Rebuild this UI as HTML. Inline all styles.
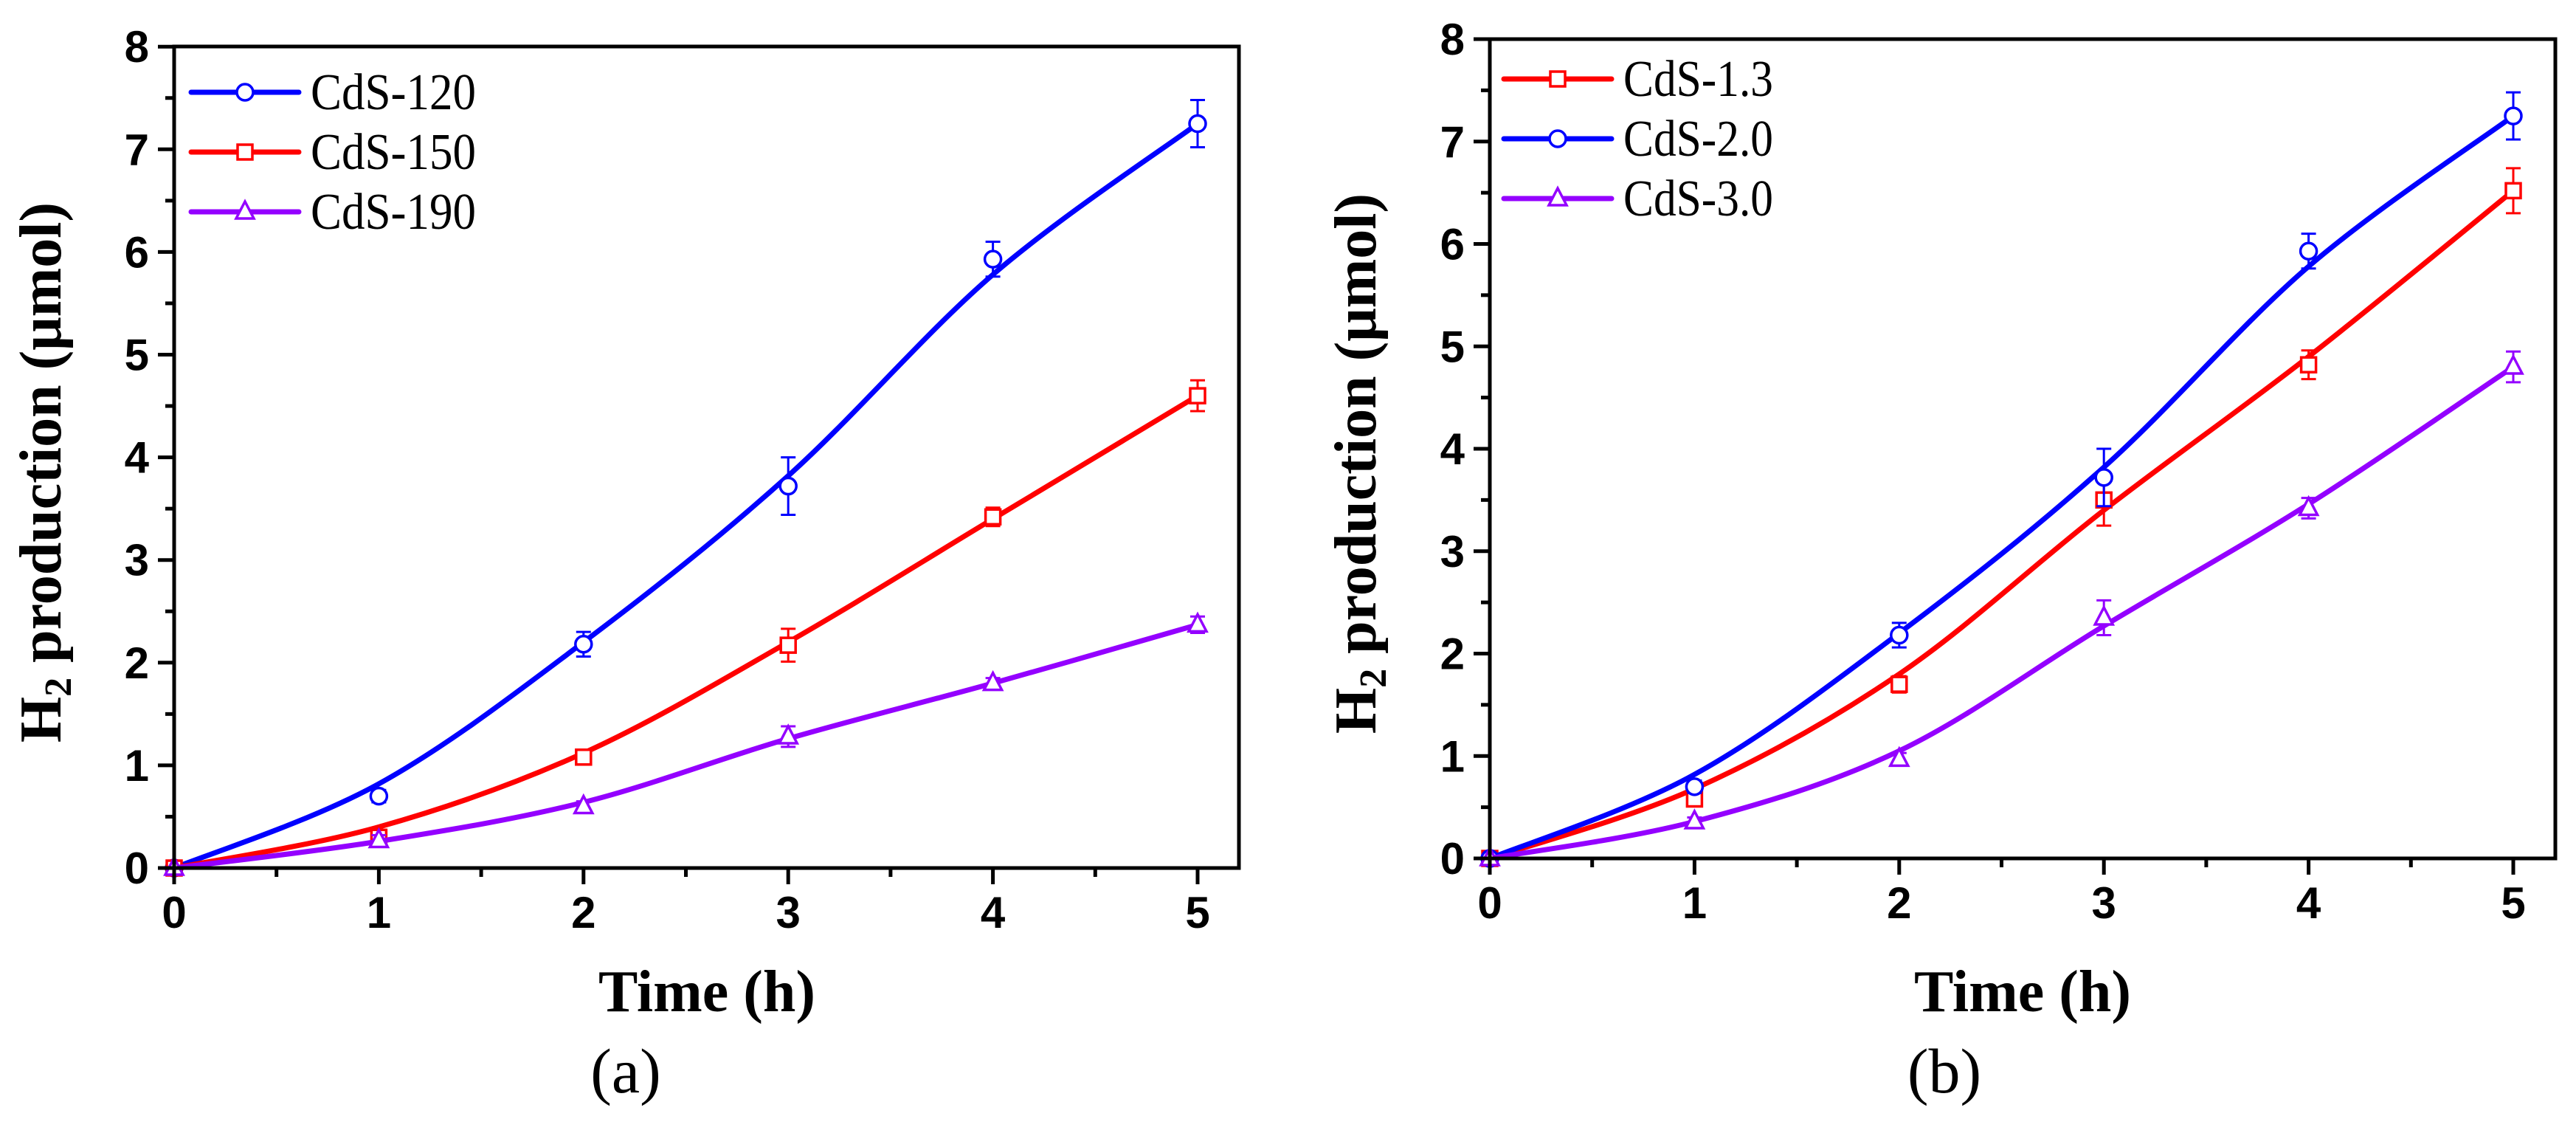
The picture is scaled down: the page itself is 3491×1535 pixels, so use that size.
<!DOCTYPE html>
<html><head><meta charset="utf-8"><style>
html,body{margin:0;padding:0;background:#fff;}
svg{display:block;}
.tick{font-family:"Liberation Sans Narrow","Liberation Sans",sans-serif;font-weight:bold;font-size:60px;}
.ttl{font-family:"Liberation Serif",serif;font-weight:bold;font-size:80px;}
.leg{font-family:"Liberation Serif",serif;font-size:70px;}
.pl{font-family:"Liberation Serif",serif;font-size:86px;}
</style></head><body>
<svg id="fig" width="3491" height="1535" viewBox="0 0 3491 1535" xmlns="http://www.w3.org/2000/svg"></svg>
<script>
const xValues = [0,1,2,3,4,5];
const yTicks = [0,1,2,3,4,5,6,7,8];
const xTicks = [0,1,2,3,4,5];
// panel a
const aNames = ["CdS-120","CdS-150","CdS-190"];
const a120Pts = [0,0.70,2.18,3.72,5.93,7.25];
const a120Err = [0,0.06,0.12,0.28,0.17,0.23];
const a120Fit = [0,0.82,2.20,3.82,5.78,7.25];
const a150Pts = [0,0.30,1.08,2.17,3.42,4.60];
const a150Err = [0,0.05,0.05,0.16,0.09,0.15];
const a150Fit = [0,0.40,1.12,2.20,3.40,4.60];
const a190Pts = [0,0.27,0.60,1.28,1.80,2.37];
const a190Err = [0,0.05,0.05,0.10,0.05,0.08];
const a190Fit = [0,0.26,0.64,1.26,1.80,2.37];
// panel b
const bNames = ["CdS-1.3","CdS-2.0","CdS-3.0"];
const b13Pts = [0,0.58,1.70,3.50,4.82,6.52];
const b13Err = [0,0.07,0.08,0.25,0.14,0.22];
const b13Fit = [0,0.68,1.80,3.40,4.90,6.52];
const b20Pts = [0,0.70,2.18,3.72,5.93,7.25];
const b20Err = [0,0.06,0.12,0.28,0.17,0.23];
const b20Fit = [0,0.82,2.20,3.82,5.78,7.25];
const b30Pts = [0,0.36,0.97,2.35,3.42,4.80];
const b30Err = [0,0.04,0.06,0.17,0.10,0.15];
const b30Fit = [0,0.36,1.05,2.27,3.46,4.80];

const NS="http://www.w3.org/2000/svg";
const svg=document.getElementById('fig');
function mk(tag,attrs,parent){const e=document.createElementNS(NS,tag);for(const k in attrs)e.setAttribute(k,attrs[k]);(parent||svg).appendChild(e);return e;}

function panel(cfg){
  const g=mk('g',{});
  
  
  const X=v=>cfg.left+v*cfg.ux, Y=v=>cfg.bottom-v*cfg.uy;
  cfg.series.forEach(s=>{
    const sg=mk('g',{},g);
    
    
    const P=xValues.map((x,i)=>[X(x),Y(s.fit[i])]);
    let d=`M${P[0][0]},${P[0][1]}`;
    for(let i=0;i<P.length-1;i++){
      const p0=P[Math.max(i-1,0)],p1=P[i],p2=P[i+1],p3=P[Math.min(i+2,P.length-1)];
      const c1=[p1[0]+(p2[0]-p0[0])/6,p1[1]+(p2[1]-p0[1])/6];
      const c2=[p2[0]-(p3[0]-p1[0])/6,p2[1]-(p3[1]-p1[1])/6];
      d+=` C${c1[0]},${c1[1]} ${c2[0]},${c2[1]} ${p2[0]},${p2[1]}`;
    }
    const ln=mk('path',{d:d,fill:'none',stroke:s.color,'stroke-width':7},sg);
    
    
    xValues.forEach((x,i)=>{
      const cx=X(x),cy=Y(s.pts[i]);
      if(s.err[i]>0){
        const e1=Y(s.pts[i]+s.err[i]),e2=Y(s.pts[i]-s.err[i]);
        const eb=mk('path',{d:`M${cx},${e1}V${e2}M${cx-10},${e1}H${cx+10}M${cx-10},${e2}H${cx+10}`,stroke:s.color,'stroke-width':3,fill:'none'},sg);
        
        
      }
      const m=marker(s.shape,cx,cy,s.color,sg);
      
      
    });
  });
  const fr=mk('rect',{x:cfg.left,y:cfg.top,width:cfg.right-cfg.left,height:cfg.bottom-cfg.top,fill:'none',stroke:'#000','stroke-width':5},g);
  
  
  yTicks.forEach(v=>{
    const y=Y(v);
    mk('line',{x1:cfg.left-22,x2:cfg.left,y1:y,y2:y,stroke:'#000','stroke-width':5},g);
    if(v<8) mk('line',{x1:cfg.left-12,x2:cfg.left,y1:Y(v+0.5),y2:Y(v+0.5),stroke:'#000','stroke-width':5},g);
    const t=mk('text',{x:cfg.left-34,y:y+21,'text-anchor':'end',class:'tick'},g);
    t.textContent=v;
    
    
  });
  xTicks.forEach(v=>{
    const x=X(v);
    mk('line',{x1:x,x2:x,y1:cfg.bottom,y2:cfg.bottom+22,stroke:'#000','stroke-width':5},g);
    if(v<5) mk('line',{x1:X(v+0.5),x2:X(v+0.5),y1:cfg.bottom,y2:cfg.bottom+12,stroke:'#000','stroke-width':5},g);
    const t=mk('text',{x:x,y:cfg.bottom+81,'text-anchor':'middle',class:'tick'},g);
    t.textContent=v;
    
    
  });
  cfg.series.slice().sort((a,b)=>a.legendRow-b.legendRow).forEach((s,i)=>{
    const lg=mk('g',{},g);
    
    
    const y=cfg.legY[i];
    mk('line',{x1:cfg.legX,x2:cfg.legX+146,y1:y,y2:y,stroke:s.color,'stroke-width':7,'stroke-linecap':'round'},lg);
    marker(s.shape,cfg.legX+73,y,s.color,lg);
    const t=mk('text',{x:cfg.legX+162,y:y+23,class:'leg',textLength:cfg.legW,lengthAdjust:'spacingAndGlyphs'},lg);
    t.textContent=s.label;
  });
  const xt=mk('text',{x:cfg.xtX,y:1370,'text-anchor':'middle',class:'ttl'},g);
  xt.textContent='Time (h)';
  
  
  const yt=mk('text',{x:0,y:0,'text-anchor':'middle',class:'ttl',transform:`translate(${cfg.ytX},${cfg.ytY}) rotate(-90)`},g);
  yt.innerHTML='H<tspan font-size="52" dy="14">2</tspan><tspan dy="-14"> production (μmol)</tspan>';
  
  
  const pl=mk('text',{x:cfg.plX,y:1480,'text-anchor':'middle',class:'pl'},g);
  pl.textContent=cfg.plLabel;
  
  
}
function marker(shape,x,y,c,p){
  const a={fill:'#fff',stroke:c,'stroke-width':3.5};
  if(shape==='circle') return mk('circle',Object.assign({cx:x,cy:y,r:11},a),p);
  if(shape==='square') return mk('rect',Object.assign({x:x-10,y:y-10,width:20,height:20},a),p);
  return mk('path',Object.assign({d:`M${x},${y-14}L${x+12},${y+9}L${x-12},${y+9}Z`},a),p);
}
const BLUE='#0000ff',RED='#ff0000',PUR='#9400ff';
panel({name:'panel-a',left:236,right:1679,top:63,bottom:1176,ux:277.4,uy:139.1,
  legX:259,legY:[125,206,287],legW:224,xtX:958,ytX:82,ytY:640,plX:848,plLabel:'(a)',
  series:[
    {label:aNames[0],color:BLUE,shape:'circle',pts:a120Pts,err:a120Err,fit:a120Fit,legendRow:0},
    {label:aNames[1],color:RED,shape:'square',pts:a150Pts,err:a150Err,fit:a150Fit,legendRow:1},
    {label:aNames[2],color:PUR,shape:'tri',pts:a190Pts,err:a190Err,fit:a190Fit,legendRow:2}]});
panel({name:'panel-b',left:2019,right:3463,top:53,bottom:1163,ux:277.4,uy:138.75,
  legX:2038,legY:[107,188,269],legW:203,xtX:2741,ytX:1864,ytY:628,plX:2635,plLabel:'(b)',
  series:[
    {label:bNames[0],color:RED,shape:'square',pts:b13Pts,err:b13Err,fit:b13Fit,legendRow:0},
    {label:bNames[1],color:BLUE,shape:'circle',pts:b20Pts,err:b20Err,fit:b20Fit,legendRow:1},
    {label:bNames[2],color:PUR,shape:'tri',pts:b30Pts,err:b30Err,fit:b30Fit,legendRow:2}]});
</script>
</body></html>
